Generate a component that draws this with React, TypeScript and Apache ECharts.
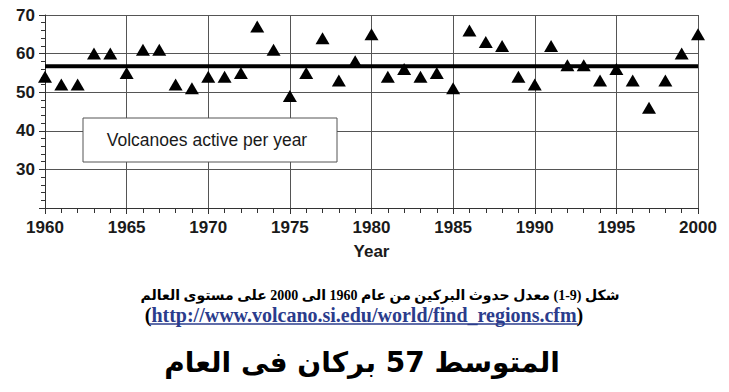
import React, { useEffect, useRef } from "react";
import * as echarts from "echarts";

const years: number[] = [
  1960, 1961, 1962, 1963, 1964, 1965, 1966, 1967, 1968, 1969,
  1970, 1971, 1972, 1973, 1974, 1975, 1976, 1977, 1978, 1979,
  1980, 1981, 1982, 1983, 1984, 1985, 1986, 1987, 1988, 1989,
  1990, 1991, 1992, 1993, 1994, 1995, 1996, 1997, 1998, 1999, 2000,
];
const activeVolcanoes: number[] = [
  54, 52, 52, 60, 60, 55, 61, 61, 52, 51,
  54, 54, 55, 67, 61, 49, 55, 64, 53, 58,
  65, 54, 56, 54, 55, 51, 66, 63, 62, 54,
  52, 62, 57, 57, 53, 56, 53, 46, 53, 60, 65,
];
const meanValue = 56.7;
const meanRange: number[] = [1960, 2000];

const legendLabel = "Volcanoes active per year";
const xAxisName = "Year";
const captionLine1 = "شكل (9-1) معدل حدوث البركين من عام 1960 الى 2000 على مستوى العالم";
const captionUrl = "http://www.volcano.si.edu/world/find_regions.cfm";
const captionLine3 = "المتوسط 57 بركان فى العام";

export default function App() {
  const ref = useRef<HTMLDivElement>(null);
  useEffect(() => {
    document.body.style.margin = "0";
    const chart = echarts.init(ref.current!, null, { renderer: "svg" });
    const axisFont = "'Liberation Sans', Arial, sans-serif";
    chart.setOption({
      animation: false,
      backgroundColor: "#ffffff",
      grid: { left: 45, right: 31, top: 15, bottom: 184 },
      xAxis: {
        type: "value",
        min: 1960,
        max: 2000,
        interval: 5,
        name: xAxisName,
        nameLocation: "middle",
        nameGap: 35,
        nameTextStyle: { fontFamily: axisFont, fontWeight: "bold", fontSize: 17, color: "#1a1a1a" },
        axisLine: { show: true, lineStyle: { color: "#333", width: 1 } },
        axisTick: { show: true, length: 6, lineStyle: { color: "#333" } },
        minorTick: { show: true, splitNumber: 5, length: 5, lineStyle: { color: "#333" } },
        axisLabel: {
          fontFamily: axisFont, fontWeight: "bold", fontSize: 17, color: "#1a1a1a", margin: 11,
          formatter: (v: number) => String(v),
        },
        splitLine: { show: true, lineStyle: { color: "#555", width: 1 } },
      },
      yAxis: {
        type: "value",
        min: 20,
        max: 70,
        interval: 10,
        axisLine: { show: true, lineStyle: { color: "#333", width: 1 } },
        axisTick: { show: true, length: 6, lineStyle: { color: "#333" } },
        minorTick: { show: true, splitNumber: 5, length: 4, lineStyle: { color: "#333" } },
        axisLabel: {
          fontFamily: axisFont, fontWeight: "bold", fontSize: 17, color: "#1a1a1a", margin: 10,
          formatter: (v: number) => (v === 20 ? "" : String(v)),
        },
        splitLine: { show: true, lineStyle: { color: "#555", width: 1 } },
      },
      series: [
        {
          type: "line",
          data: meanRange.map((y) => [y, meanValue]),
          showSymbol: false,
          symbol: "none",
          lineStyle: { color: "#000", width: 4 },
          z: 3,
        },
        {
          type: "scatter",
          data: years.map((y, i) => [y, activeVolcanoes[i]]),
          symbol: "triangle",
          symbolSize: [14, 12],
          itemStyle: { color: "#000", opacity: 1 },
          z: 4,
        },
      ],
      graphic: [
        {
          type: "rect",
          shape: { x: 83, y: 118, width: 254, height: 44 },
          style: { fill: "#fff", stroke: "#555", lineWidth: 1 },
          z: 10,
        },
        {
          type: "text",
          x: 207,
          y: 140,
          style: {
            text: legendLabel,
            fontFamily: axisFont,
            fontSize: 17.5,
            fill: "#1a1a1a",
            align: "center",
            verticalAlign: "middle",
          },
          z: 11,
        },
        {
          type: "text",
          x: 380,
          y: 295,
          style: {
            text: captionLine1,
            fontFamily: "'Liberation Serif', 'DejaVu Sans', serif",
            fontWeight: "bold",
            fontSize: 14,
            fill: "#000",
            align: "center",
            verticalAlign: "middle",
          },
        },
        {
          type: "text",
          x: 364,
          y: 315,
          style: {
            text: "{p|(}{u|" + captionUrl + "}{p|)}",
            align: "center",
            verticalAlign: "middle",
            rich: {
              p: { fontFamily: "'Liberation Serif', serif", fontWeight: "bold", fontSize: 20, fill: "#000" },
              u: { fontFamily: "'Liberation Serif', serif", fontWeight: "bold", fontSize: 20, fill: "#2b3c8c" },
            },
          },
        },
        {
          type: "line",
          shape: { x1: 149, y1: 324, x2: 578, y2: 324 },
          style: { stroke: "#2b3c8c", lineWidth: 1.5 },
        },
        {
          type: "text",
          x: 362,
          y: 362,
          style: {
            text: captionLine3,
            fontFamily: "'DejaVu Sans', sans-serif",
            fontWeight: "bold",
            fontSize: 28,
            fill: "#000",
            align: "center",
            verticalAlign: "middle",
          },
        },
      ],
    });
    return () => chart.dispose();
  }, []);
  return <div ref={ref} style={{ width: 729, height: 392 }} />;
}
